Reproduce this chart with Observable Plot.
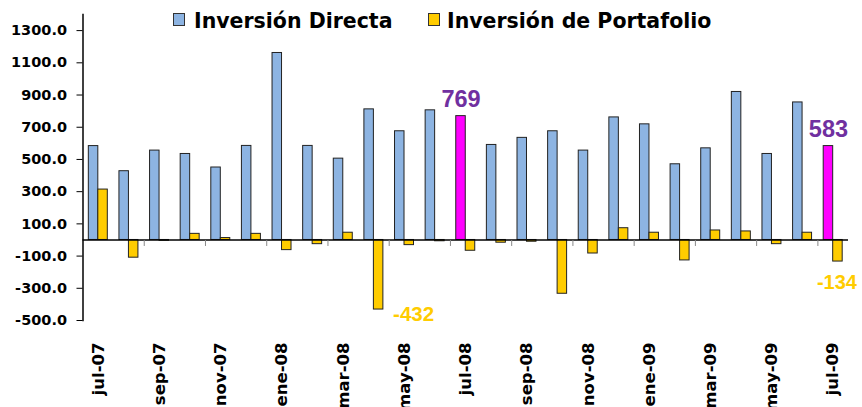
<!DOCTYPE html>
<html>
<head>
<meta charset="utf-8">
<script src="https://cdn.jsdelivr.net/npm/d3@7"></script>
<script src="https://cdn.jsdelivr.net/npm/@observablehq/plot@0.6"></script>
<style>
  body { margin: 0; background: #fff; }
  #wrap { position: relative; width: 862px; height: 407px; overflow: hidden; }
  .sw { position: absolute; box-sizing: border-box; border: 1px solid #333; }
  .lt { position: absolute; font: bold 20.5px "DejaVu Sans"; line-height: 1; white-space: nowrap; color: #000; }
</style>
</head>
<body>
<div id="wrap">
  <div id="chart"></div>
  <div class="sw" style="left:173px;top:13px;width:12px;height:13px;background:#8DB4E2"></div>
  <div class="lt" style="left:194px;top:11px">Inversión Directa</div>
  <div class="sw" style="left:428px;top:13px;width:12px;height:13px;background:#FFCC00"></div>
  <div class="lt" style="left:447px;top:11px">Inversión de Portafolio</div>
</div>
<script>
// ---- data ----
const months = ["jul-07","ago-07","sep-07","oct-07","nov-07","dic-07","ene-08","feb-08","mar-08","abr-08","may-08","jun-08",
                "jul-08","ago-08","sep-08","oct-08","nov-08","dic-08","ene-09","feb-09","mar-09","abr-09","may-09","jun-09","jul-09"];
const directa = [583,427,555,534,450,584,1161,584,505,811,675,805,769,590,634,675,555,761,718,470,569,919,534,854,583];
const portafolio = [313,-110,-5,38,12,38,-63,-26,45,-432,-32,-8,-67,-17,-11,-334,-84,73,45,-127,59,53,-26,45,-134];
const tickLabels = ["jul-07","sep-07","nov-07","ene-08","mar-08","may-08","jul-08","sep-08","nov-08","ene-09","mar-09","may-09","jul-09"];
const yTicks = [-500,-300,-100,100,300,500,700,900,1100,1300];
const highlightMonths = ["jul-08","jul-09"];
const directaLabelMonths = ["jul-08","jul-09"];
const portLabelMinMonth = ["abr-08"];
const portLabelLastMonth = ["jul-09"];

// ---- layout ----
const W = 862, H = 407, ML = 82.5, MR = 14, MT = 14, MB = 87;
const PAD = 0.38;
const step = (W - ML - MR) / months.length;
const bw = step * (1 - PAD);

const rows = months.map((m, i) => ({month: m, directa: directa[i], portafolio: portafolio[i]}));
const tickSym = { draw(ctx) { ctx.moveTo(0, 0); ctx.lineTo(0, 6); } };

const chart = Plot.plot({
  width: W, height: H,
  marginLeft: ML, marginRight: MR, marginTop: MT, marginBottom: MB,
  style: {fontFamily: "DejaVu Sans", color: "black", background: "white", overflow: "visible"},
  x: {type: "band", domain: months, paddingInner: PAD, paddingOuter: PAD / 2, round: false},
  y: {domain: [-500, 1400]},
  marks: [
    Plot.barY(rows, {x: "month", y: "directa",
      fill: d => highlightMonths.includes(d.month) ? "#FF00FF" : "#8DB4E2",
      stroke: "#222", strokeWidth: 1, insetRight: bw / 2}),
    Plot.barY(rows, {x: "month", y: "portafolio", fill: "#FFCC00",
      stroke: "#222", strokeWidth: 1, insetLeft: bw / 2}),
    Plot.ruleY([0], {stroke: "black", strokeWidth: 1.5}),
    Plot.dot(tickLabels.slice(1), {x: d => d, y: () => 0, symbol: tickSym, r: 3,
      stroke: "#888", strokeWidth: 1, fill: "none", dx: -step / 2}),
    Plot.frame({anchor: "left", stroke: "black", strokeWidth: 1.5}),
    Plot.axisY({ticks: yTicks, tickFormat: d => d.toFixed(1), tickSize: 6, tickPadding: 10,
      fontSize: 14.5, fontWeight: "bold", label: null, stroke: "black"}),
    Plot.axisX({ticks: tickLabels, tickRotate: -90, tickSize: 0, tickPadding: 22,
      fontSize: 16.5, fontWeight: "bold", label: null}),
    Plot.text(rows.filter(d => directaLabelMonths.includes(d.month)), {x: "month", y: "directa",
      text: d => String(d.directa), dx: -bw / 4, dy: -9, lineAnchor: "bottom",
      fill: "#7030A0", fontSize: 23.5, fontWeight: "bold",
      fontFamily: "'Liberation Sans Narrow', 'Liberation Sans', sans-serif"}),
    Plot.text(rows.filter(d => portLabelMinMonth.includes(d.month)), {x: "month", y: "portafolio",
      text: d => String(d.portafolio), dx: bw / 4 + 35, dy: -3, lineAnchor: "top",
      fill: "#FFCC00", fontSize: 20.5, fontWeight: "bold", fontFamily: "'Liberation Sans', sans-serif"}),
    Plot.text(rows.filter(d => portLabelLastMonth.includes(d.month)), {x: "month", y: "portafolio",
      text: d => String(d.portafolio), dx: bw / 4 - 1, dy: 13, lineAnchor: "top",
      fill: "#FFCC00", fontSize: 20, fontWeight: "bold", fontFamily: "'Liberation Sans', sans-serif"})
  ]
});
document.getElementById("chart").appendChild(chart);
</script>
</body>
</html>
